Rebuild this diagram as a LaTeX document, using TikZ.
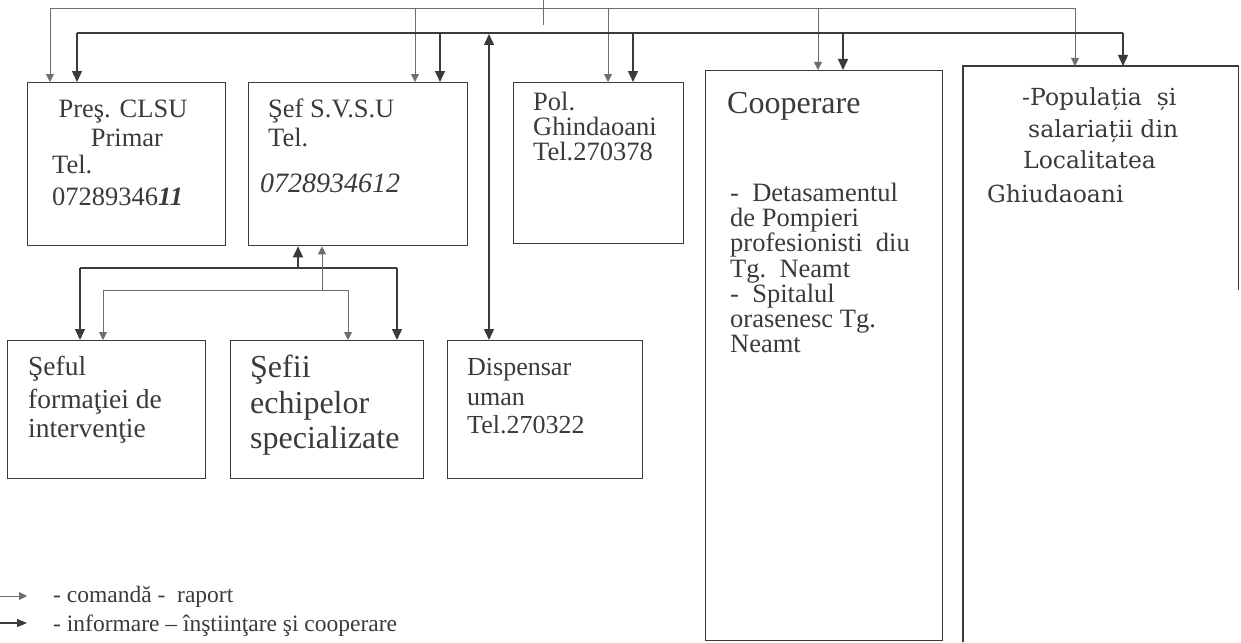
\documentclass[tikz,border=0pt]{standalone}
\usepackage{fontspec}
\setmainfont{Liberation Serif}
\newfontfamily\popfont{DejaVu Serif}
\usetikzlibrary{arrows.meta}
\definecolor{ink}{HTML}{3A3A3A}
\definecolor{thinink}{HTML}{6E6E6E}
\newcommand\myfs[1]{\fontsize{#1}{#1}\selectfont}
\begin{document}
\begin{tikzpicture}[x=1pt,y=-1pt,
  box/.style={draw=ink, line width=1.3pt, inner sep=0pt, anchor=north west},
  cmd/.style={draw=thinink, line width=0.9pt},
  cmdarrow/.style={cmd, -{Triangle[width=8pt,length=8pt]}},
  info/.style={draw=ink, line width=1.4pt},
  infoarrow/.style={info, -{Triangle[width=10pt,length=11pt]}},
  txt/.style={anchor=base west, inner sep=0pt, text=ink}]
\useasboundingbox (0,0) rectangle (1241,642);
% boxes
\node[box, minimum width=198pt, minimum height=163pt] (pres) at (27,82) {};
\node[box, minimum width=219pt, minimum height=163pt] (svsu) at (248,82) {};
\node[box, minimum width=170pt, minimum height=161pt] (pol) at (513,82) {};
\node[box, minimum width=237pt, minimum height=570pt] (coop) at (705,70) {};
\node[inner sep=0pt, anchor=north west, minimum width=275pt, minimum height=576pt] (pop) at (963,66) {};
\draw[ink, line width=1.3pt] (pop.south west) -- (pop.north west) -- (pop.north east) -- ++(0,224);
\node[box, minimum width=198pt, minimum height=138pt] (seful) at (7,340) {};
\node[box, minimum width=193pt, minimum height=138pt] (sefii) at (230,340) {};
\node[box, minimum width=195pt, minimum height=138pt] (disp) at (447,340) {};
% command bus
\coordinate (cA) at (50,8);
\coordinate (cB) at (415,8);
\coordinate (cC) at (608,8);
\coordinate (cD) at (818,8);
\coordinate (cE) at (1075,8);
\coordinate (ctop) at (543,0);
\coordinate (cend) at (543,25);
\draw[cmd] (cA) -- (cE);
\draw[cmd] (ctop) -- (cend);
\draw[cmdarrow] (cA) -- (cA |- pres.north);
\draw[cmdarrow] (cB) -- (cB |- svsu.north);
\draw[cmdarrow] (cC) -- (cC |- pol.north);
\draw[cmdarrow] (cD) -- (cD |- coop.north);
\draw[cmdarrow] (cE) -- (cE |- pop.north);
% information bus
\coordinate (iA) at (77,33);
\coordinate (iB) at (440,33);
\coordinate (iC) at (633,33);
\coordinate (iD) at (843,33);
\coordinate (iE) at (1123,33);
\draw[info] (iA) -- (iE);
\draw[infoarrow] (iA) -- (iA |- pres.north);
\draw[infoarrow] (iB) -- (iB |- svsu.north);
\draw[infoarrow] (iC) -- (iC |- pol.north);
\draw[infoarrow] (iD) -- (iD |- coop.north);
\draw[infoarrow] (iE) -- (iE |- pop.north);
% dispensar link
\coordinate (dtop) at (489,34);
\draw[info, {Triangle[width=10pt,length=11pt]}-{Triangle[width=10pt,length=11pt]}] (dtop) -- (dtop |- disp.north);
% svsu to lower row
\coordinate (tk) at (298,268);
\coordinate (tkL) at (80,268);
\coordinate (tkR) at (397,268);
\draw[infoarrow] (tk) -- (tk |- svsu.south);
\draw[info] (tkL) -- (tkR);
\draw[infoarrow] (tkL) -- (tkL |- seful.north);
\draw[infoarrow] (tkR) -- (tkR |- sefii.north);
\coordinate (tn) at (322,290);
\coordinate (tnL) at (103,290);
\coordinate (tnR) at (348,290);
\draw[cmdarrow] (tn) -- (tn |- svsu.south);
\draw[cmd] (tnL) -- (tnR);
\draw[cmdarrow] (tnL) -- (tnL |- seful.north);
\draw[cmdarrow] (tnR) -- (tnR |- sefii.north);
% texts
\node[txt, anchor=base, font=\myfs{26.5}] (p1) at (123,117) {Preş. CLSU};
\node[txt, anchor=base, font=\myfs{26.5}] (p2) at (127,146) {Primar};
\node[txt, font=\myfs{26.5}] (p3) at (52,173) {Tel.};
\node[txt, font=\myfs{26.5}] (p4) at (52,205) {07289346\textbf{\textit{11}}};
\node[txt, font=\myfs{26.5}] (s1) at (268,117) {Şef S.V.S.U};
\node[txt, font=\myfs{26.5}] (s2) at (268,146) {Tel.};
\node[txt, font=\myfs{28}\itshape] (s3) at (260,192) {0728934612};
\node[txt, font=\myfs{26.5}] (o1) at (533,110) {Pol.};
\node[txt, font=\myfs{26.5}] (o2) at (533,135) {Ghindaoani};
\node[txt, font=\myfs{26.5}] (o3) at (533,160) {Tel.270378};
\node[txt, font=\myfs{32}] (k0) at (727,113) {Cooperare};
\node[txt, font=\myfs{26.5}] (k1) at (730,201) {-\ \ Detasamentul};
\node[txt, font=\myfs{26.5}] (k2) at (730,226) {de Pompieri};
\node[txt, font=\myfs{26.5}] (k3) at (730,251) {profesionisti\ \ diu};
\node[txt, font=\myfs{26.5}] (k4) at (730,277) {Tg.\ \ Neamt};
\node[txt, font=\myfs{26.5}] (k5) at (730,302) {-\ \ Spitalul};
\node[txt, font=\myfs{26.5}] (k6) at (730,327) {orasenesc Tg.};
\node[txt, font=\myfs{26.5}] (k7) at (730,352) {Neamt};
\node[txt, font=\popfont\myfs{23.5}] (q1) at (1022,105) {-Populația\ \ și};
\node[txt, font=\popfont\myfs{23.5}] (q2) at (1028,137) {salariații din};
\node[txt, font=\popfont\myfs{23.5}] (q3) at (1023,168) {Localitatea};
\node[txt, font=\popfont\myfs{23.5}] (q4) at (987,202) {Ghiudaoani};
\node[txt, font=\myfs{27.5}] (f1) at (28,375) {Şeful};
\node[txt, font=\myfs{27.5}] (f2) at (28,408) {formaţiei de};
\node[txt, font=\myfs{27.5}] (f3) at (28,437) {intervenţie};
\node[txt, font=\myfs{32}] (e1) at (250,377) {Şefii};
\node[txt, font=\myfs{32}] (e2) at (250,413) {echipelor};
\node[txt, font=\myfs{32}] (e3) at (250,448) {specializate};
\node[txt, font=\myfs{26}] (d1) at (467,375) {Dispensar};
\node[txt, font=\myfs{26}] (d2) at (467,405) {uman};
\node[txt, font=\myfs{26}] (d3) at (467,433) {Tel.270322};
% legend
\coordinate (lg1a) at (0,596);
\coordinate (lg1b) at (27,596);
\coordinate (lg2a) at (0,623);
\coordinate (lg2b) at (27,623);
\draw[cmdarrow] (lg1a) -- (lg1b);
\draw[info, -{Triangle[width=8pt,length=10pt]}] (lg2a) -- (lg2b);
\node[txt, font=\myfs{23.5}] (lt1) at (53,602) {- comandă -\ \ raport};
\node[txt, font=\myfs{23.5}] (lt2) at (53,631) {- informare – înştiinţare şi cooperare};
\end{tikzpicture}
\end{document}
